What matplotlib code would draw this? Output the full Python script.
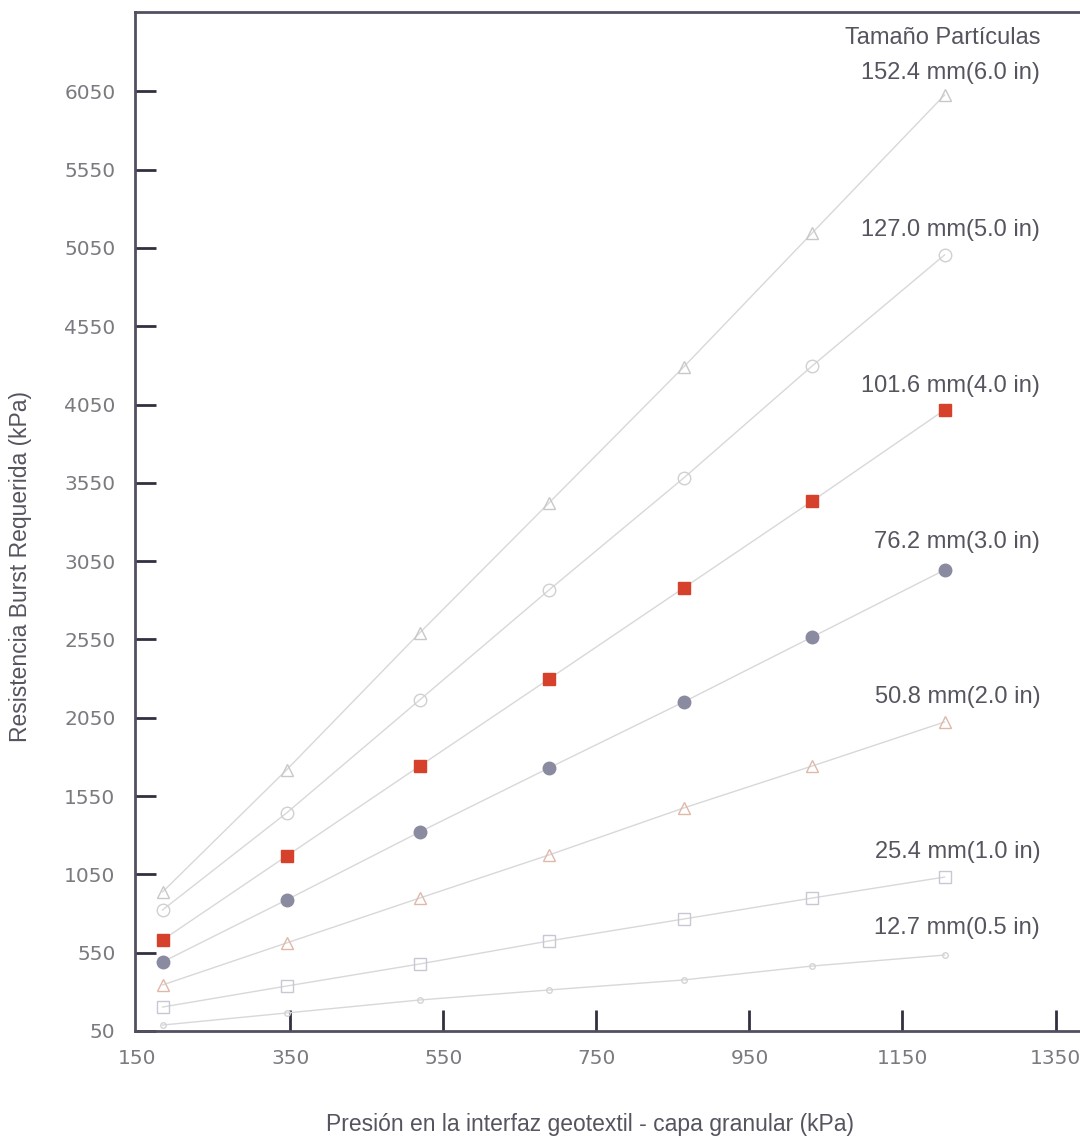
import matplotlib
matplotlib.use("Agg")
import matplotlib.pyplot as plt

# Data
presion = [183, 345, 519, 688, 864, 1032, 1205]
sizes = ["152.4 mm(6.0 in)", "127.0 mm(5.0 in)", "101.6 mm(4.0 in)",
         "76.2 mm(3.0 in)", "50.8 mm(2.0 in)", "25.4 mm(1.0 in)", "12.7 mm(0.5 in)"]
s152 = [938, 1717, 2592, 3422, 4290, 5146, 6027]
s127 = [823, 1442, 2164, 2866, 3581, 4297, 5006]
s102 = [631, 1167, 1742, 2298, 2879, 3434, 4016]
s76 = [491, 887, 1321, 1730, 2151, 2566, 2994]
s51 = [344, 612, 899, 1174, 1474, 1742, 2023]
s25 = [203, 337, 478, 625, 765, 899, 1033]
s13 = [88, 165, 248, 312, 376, 465, 535]
label_y = [6167, 5165, 4169, 3173, 2183, 1193, 708]
xticks = [150, 350, 550, 750, 950, 1150, 1350]
yticks = list(range(50, 6051, 500))

series = [s152, s127, s102, s76, s51, s25, s13]
styles = [
    dict(marker="^", mfc="none", mec="#c8c8cc", ms=9),
    dict(marker="o", mfc="none", mec="#d0d0d4", ms=9),
    dict(marker="s", mfc="#d5412a", mec="#d5412a", ms=9),
    dict(marker="o", mfc="#8a8aa0", mec="#8a8aa0", ms=9),
    dict(marker="^", mfc="none", mec="#e0b8a8", ms=9),
    dict(marker="s", mfc="none", mec="#c8c8d4", ms=9),
    dict(marker="o", mfc="none", mec="#d4d4d8", ms=4),
]

fig = plt.figure(figsize=(10.8, 11.37), dpi=100)
ax = fig.add_axes([135/1080, 106/1137, 945/1080, 1019/1137])

for ys, st in zip(series, styles):
    ax.plot(presion, ys, color="#d8d8da", lw=1.0, **st)

ax.set_xlim(147, 1382)
ax.set_ylim(50, 6557)
ax.set_xticks(xticks)
ax.set_yticks(yticks)
ax.tick_params(direction="in", length=15, width=2, color="#303040",
               labelsize=14.5, labelcolor="#7a7a80", pad=14)
ax.tick_params(axis="x", pad=13)
ax.xaxis.get_major_ticks()[0].tick1line.set_visible(False)
for side in ["left", "top", "bottom"]:
    ax.spines[side].set_color("#505060")
    ax.spines[side].set_linewidth(2)
ax.spines["right"].set_visible(False)

lab_font = dict(family="Liberation Sans", fontsize=17, color="#555560")
ax.text(1330, 6391, "Tamaño Partículas", ha="right", va="center", **lab_font)
for name, yv in zip(sizes, label_y):
    ax.text(1330, yv, name, ha="right", va="center", **lab_font)

fig.text(590/1080, 1 - 1125/1137,
         "Presión en la interfaz geotextil - capa granular (kPa)",
         family="Liberation Sans", fontsize=16.5, color="#555560",
         ha="center", va="center")
fig.text(21/1080, 1 - 567/1137, "Resistencia Burst Requerida (kPa)",
         family="Liberation Sans", fontsize=16.5, color="#555560",
         ha="center", va="center", rotation=90)

fig.savefig("out.png", dpi=100, facecolor="white")
